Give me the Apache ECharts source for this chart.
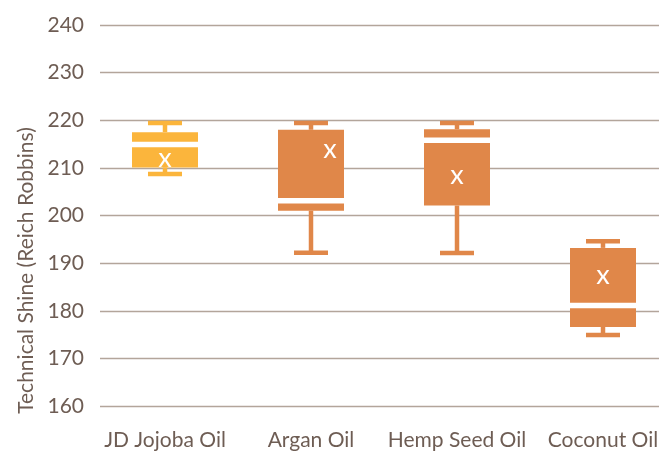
<!DOCTYPE html>
<html>
<head>
<meta charset="utf-8">
<script src="https://cdn.jsdelivr.net/npm/echarts@6/dist/echarts.min.js"></script>
<style>html,body{margin:0;padding:0;background:#fff}#c{width:659px;height:452px}</style>
</head>
<body>
<div id="c"></div>
<script>
const categories = ['JD Jojoba Oil', 'Argan Oil', 'Hemp Seed Oil', 'Coconut Oil'];
const minValues    = [208.7, 192.2, 192.1, 174.9];
const q1Values     = [210.1, 201.0, 202.1, 176.6];
const medianValues = [214.9, 203.1, 215.8, 181.1];
const q3Values     = [217.5, 218.0, 218.1, 193.2];
const maxValues    = [219.4, 219.4, 219.4, 194.6];
const meanValues   = [212.0, 214.0, 208.4, 187.4];
const yTicks = [160, 170, 180, 190, 200, 210, 220, 230, 240];

const boxColors = ['#FBB53C', '#E08749', '#E08749', '#E08749'];
const meanShift = [0, 19, 0, 0];
const textColor = '#6e5d54';
const FONT = 'Lato';

const boxData = categories.map((c, i) => [i, minValues[i], q1Values[i], medianValues[i], q3Values[i], maxValues[i], meanValues[i]]);

function renderBox(params, api) {
  const i = api.value(0);
  const pMin = api.coord([i, api.value(1)]);
  const pQ1 = api.coord([i, api.value(2)]);
  const pMed = api.coord([i, api.value(3)]);
  const pQ3 = api.coord([i, api.value(4)]);
  const pMax = api.coord([i, api.value(5)]);
  const pMean = api.coord([i, api.value(6)]);
  const x = pQ1[0];
  const bw = 66, cw = 34, capH = 4.5, stemW = 4.5, medH = 5.5;
  const col = boxColors[i];
  return {
    type: 'group',
    children: [
      { type: 'rect', shape: { x: x - stemW / 2, y: pMax[1], width: stemW, height: pQ3[1] - pMax[1] }, style: { fill: col } },
      { type: 'rect', shape: { x: x - stemW / 2, y: pQ1[1], width: stemW, height: pMin[1] - pQ1[1] }, style: { fill: col } },
      { type: 'rect', shape: { x: x - cw / 2, y: pMax[1] - capH / 2, width: cw, height: capH }, style: { fill: col } },
      { type: 'rect', shape: { x: x - cw / 2, y: pMin[1] - capH / 2, width: cw, height: capH }, style: { fill: col } },
      { type: 'rect', shape: { x: x - bw / 2, y: pQ3[1], width: bw, height: pQ1[1] - pQ3[1] }, style: { fill: col } },
      { type: 'rect', shape: { x: x - bw / 2 - 1, y: pMed[1] - medH / 2, width: bw + 2, height: medH }, style: { fill: '#ffffff' } },
      { type: 'text', x: x + meanShift[i], y: pMean[1], style: { text: 'x', fill: '#ffffff', font: '27px ' + FONT, align: 'center', verticalAlign: 'middle' } }
    ]
  };
}

const chart = echarts.init(document.getElementById('c'), null, { renderer: 'canvas' });
chart.setOption({
  animation: false,
  backgroundColor: '#ffffff',
  grid: [
    { left: 100, right: 0, top: 25, bottom: 46, outerBoundsMode: 'none', containLabel: false },
    { left: 92, width: 584, top: 25, bottom: 46, outerBoundsMode: 'none', containLabel: false }
  ],
  xAxis: [
    { gridIndex: 0, type: 'value', show: false, min: 0, max: 1 },
    {
      gridIndex: 1, type: 'category', data: categories,
      axisLine: { show: false }, axisTick: { show: false },
      axisLabel: { color: textColor, fontFamily: FONT, fontSize: 21, margin: 24, interval: 0 }
    }
  ],
  yAxis: [
    {
      gridIndex: 0, type: 'value', min: yTicks[0], max: yTicks[yTicks.length - 1], interval: 10,
      axisLine: { show: false }, axisTick: { show: false },
      axisLabel: { color: textColor, fontFamily: FONT, fontSize: 21, margin: 16 },
      splitLine: { lineStyle: { color: '#b3a59b', width: 1.3 } },
      name: 'Technical Shine (Reich Robbins)', nameLocation: 'middle', nameGap: 63,
      nameTextStyle: { color: textColor, fontFamily: FONT, fontSize: 21, padding: [0, 110, 0, 0] }
    },
    { gridIndex: 1, type: 'value', min: yTicks[0], max: yTicks[yTicks.length - 1], show: false }
  ],
  series: [
    {
      type: 'custom', xAxisIndex: 1, yAxisIndex: 1,
      renderItem: renderBox,
      encode: { x: 0, y: [1, 2, 3, 4, 5] },
      data: boxData
    }
  ]
});
</script>
</body>
</html>
